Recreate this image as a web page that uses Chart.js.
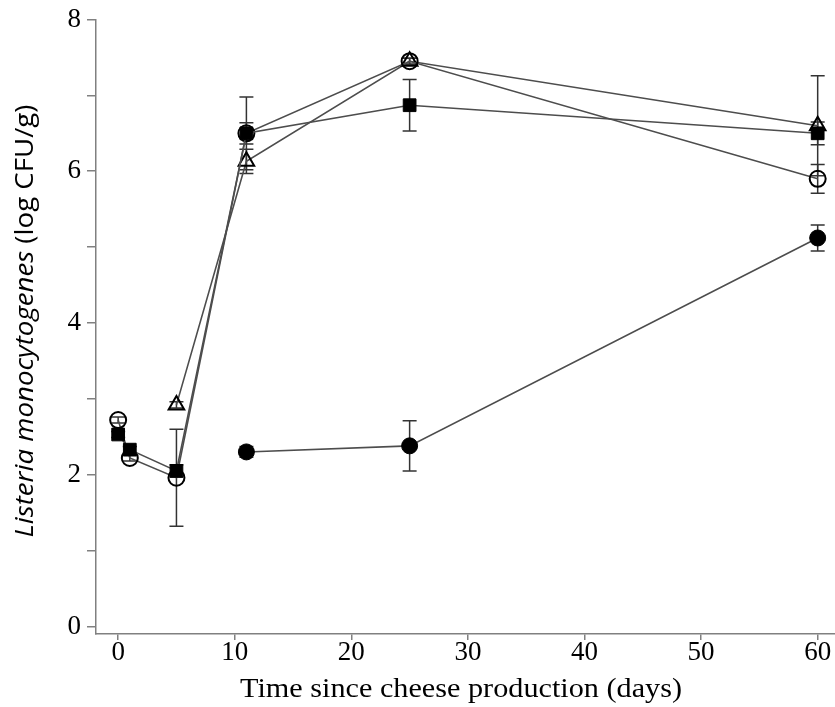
<!DOCTYPE html>
<html>
<head>
<meta charset="utf-8">
<script src="https://cdn.jsdelivr.net/npm/chart.js@4"></script>
<style>
  html, body { margin: 0; padding: 0; background: #fff; overflow: hidden; }
</style>
</head>
<body>
<canvas id="chart-1" width="860" height="707"></canvas>
<script>
// days and log CFU/g
const daysOpenCircle = [0, 1, 5, 11, 25, 60];
const valsOpenCircle = [2.72, 2.22, 1.96, 6.5, 7.45, 5.9];
const errsOpenCircle = [0.04, 0.04, 0.64, 0.48, 0.04, 0.19];

const daysSquare = [0, 1, 5, 11, 25, 60];
const valsSquare = [2.53, 2.33, 2.05, 6.5, 6.87, 6.5];
const errsSquare = [0.04, 0.04, 0.08, 0.14, 0.34, 0.15];

const daysTriangle = [5, 11, 25, 60];
const valsTriangle = [2.92, 6.13, 7.45, 6.6];
const errsTriangle = [0.04, 0.16, 0.04, 0.66];

const daysFilledCircle = [11, 25, 60];
const valsFilledCircle = [2.3, 2.38, 5.12];
const errsFilledCircle = [0.07, 0.33, 0.17];

const xTicks = [0, 10, 20, 30, 40, 50, 60];
const yTicks = [0, 1, 2, 3, 4, 5, 6, 7, 8];

const pts = (xs, ys) => xs.map((x, i) => ({x: x, y: ys[i]}));

const lineColor = '#4d4d4d';
const axisColor = '#808080';

const data1 = {
  datasets: [
    {
      label: 'filled square',
      data: pts(daysSquare, valsSquare),
      errors: errsSquare,
      pointStyle: 'rect',
      pointRadius: 9,
      pointBackgroundColor: '#000',
      pointBorderColor: '#000',
      pointBorderWidth: 1
    },
    {
      label: 'open circle',
      data: pts(daysOpenCircle, valsOpenCircle),
      errors: errsOpenCircle,
      pointStyle: 'circle',
      pointRadius: 8,
      pointBackgroundColor: 'rgba(255,255,255,0)',
      pointBorderColor: '#000',
      pointBorderWidth: 2
    },
    {
      label: 'open triangle',
      data: pts(daysTriangle, valsTriangle),
      errors: errsTriangle,
      pointStyle: 'triangle',
      pointRadius: 9,
      pointBackgroundColor: 'rgba(255,255,255,0)',
      pointBorderColor: '#000',
      pointBorderWidth: 2
    },
    {
      label: 'filled circle',
      data: pts(daysFilledCircle, valsFilledCircle),
      errors: errsFilledCircle,
      pointStyle: 'circle',
      pointRadius: 8,
      pointBackgroundColor: '#000',
      pointBorderColor: '#000',
      pointBorderWidth: 1
    }
  ]
};
data1.datasets.forEach(d => {
  d.showLine = true;
  d.borderColor = lineColor;
  d.borderWidth = 1.6;
  d.fill = false;
});

// error bars with caps, drawn under the markers
const errorBars = {
  id: 'errorBars',
  beforeDatasetsDraw(chart) {
    const ctx = chart.ctx;
    const xs = chart.scales.x, ys = chart.scales.y;
    ctx.save();
    ctx.strokeStyle = '#333';
    ctx.lineWidth = 1.5;
    chart.data.datasets.forEach(ds => {
      ds.data.forEach((p, i) => {
        const e = ds.errors[i];
        const px = xs.getPixelForValue(p.x);
        const top = ys.getPixelForValue(p.y + e);
        const bot = ys.getPixelForValue(p.y - e);
        ctx.beginPath();
        ctx.moveTo(px, top); ctx.lineTo(px, bot);
        ctx.moveTo(px - 7, top); ctx.lineTo(px + 7, top);
        ctx.moveTo(px - 7, bot); ctx.lineTo(px + 7, bot);
        ctx.stroke();
      });
    });
    ctx.restore();
  }
};

// axis titles (y title mixes italic and regular)
const axisTitles = {
  id: 'axisTitles',
  afterDraw(chart) {
    const ctx = chart.ctx;
    ctx.save();
    ctx.fillStyle = '#000';
    ctx.textBaseline = 'alphabetic';
    ctx.font = '27px "Liberation Serif"';
    const xt = 'Time since cheese production (days)';
    const wx = ctx.measureText(xt).width;
    ctx.save();
    ctx.translate(461, 697);
    ctx.scale(442 / wx, 1);
    ctx.textAlign = 'center';
    ctx.fillText(xt, 0, 0);
    ctx.restore();

    const part1 = 'Listeria monocytogenes';
    const part2 = ' (log CFU/g)';
    const f1 = 'italic 25px "Open Sans"';
    const f2 = '25px "Open Sans"';
    ctx.font = f1; const w1 = ctx.measureText(part1).width;
    ctx.font = f2; const w2 = ctx.measureText(part2).width;
    ctx.translate(33, 321);
    ctx.rotate(-Math.PI / 2);
    ctx.scale(433 / (w1 + w2), 1);
    ctx.textAlign = 'left';
    const start = -(w1 + w2) / 2;
    ctx.font = f1; ctx.fillText(part1, start, 0);
    ctx.font = f2; ctx.fillText(part2, start + w1, 0);
    ctx.restore();
  }
};

const config1 = {
  type: 'scatter',
  data: data1,
  plugins: [errorBars, axisTitles],
  options: {
    responsive: false,
    animation: false,
    layout: { padding: { top: 18, right: 19, left: 0, bottom: 0 } },
    plugins: {
      legend: { display: false },
      tooltip: { enabled: false }
    },
    scales: {
      x: {
        type: 'linear',
        min: -1.9,
        max: 62,
        afterBuildTicks: s => { s.ticks = xTicks.map(v => ({value: v})); },
        afterFit: s => { s.height = 73; },
        grid: { display: true, drawOnChartArea: false, drawTicks: true, tickLength: 6, color: axisColor, lineWidth: 1.5 },
        border: { display: true, color: axisColor, width: 1.5 },
        ticks: { color: '#000', font: { family: '"Liberation Serif"', size: 27 }, padding: -3, maxRotation: 0 }
      },
      y: {
        type: 'linear',
        min: -0.1,
        max: 8,
        afterBuildTicks: s => { s.ticks = yTicks.map(v => ({value: v})); },
        afterFit: s => { s.width = 96; },
        grid: { display: true, drawOnChartArea: false, drawTicks: true, tickLength: 9, color: axisColor, lineWidth: 1.5 },
        border: { display: true, color: axisColor, width: 1.5 },
        ticks: {
          color: '#000',
          font: { family: '"Liberation Serif"', size: 27, lineHeight: 1 },
          padding: 6,
          callback: v => (v % 2 === 0 ? v : '')
        }
      }
    }
  }
};

const ctx1 = document.getElementById('chart-1');
const chart1 = new Chart(ctx1, config1);
</script>
</body>
</html>
